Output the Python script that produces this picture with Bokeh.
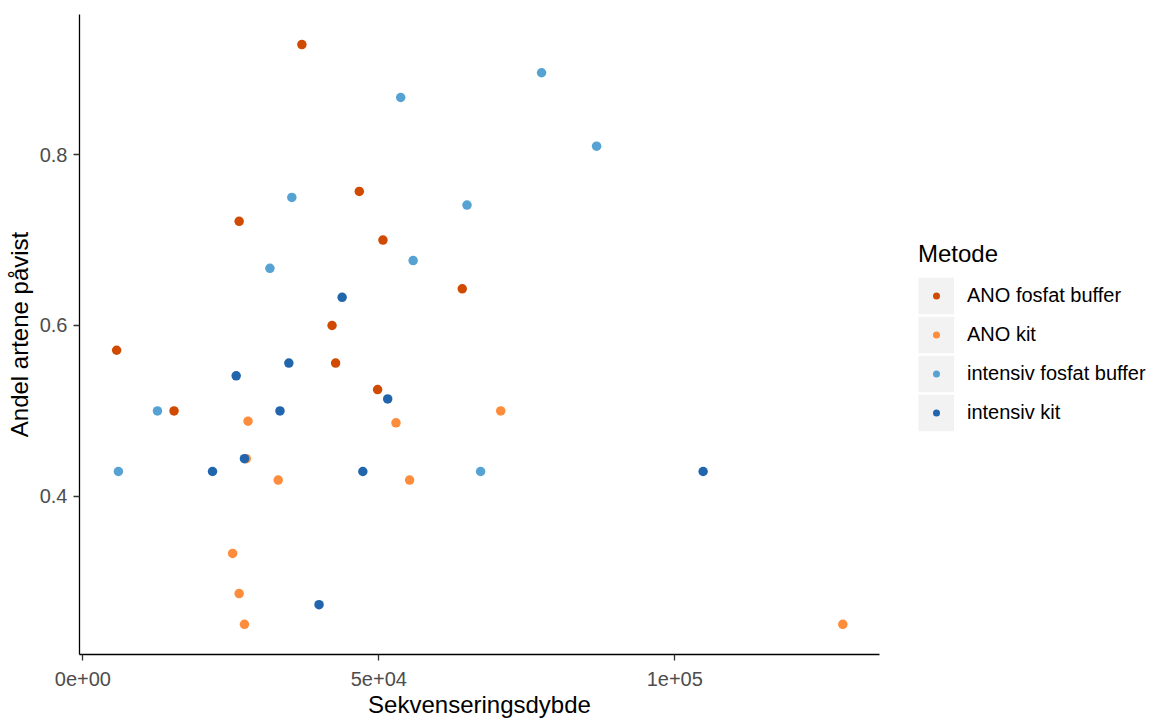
from bokeh.plotting import figure
from bokeh.models import Range1d, FixedTicker, Legend, LegendItem
from bokeh.embed import file_html
from bokeh.resources import INLINE

# ---- data ----
methods = ["ANO fosfat buffer", "ANO kit", "intensiv fosfat buffer", "intensiv kit"]
colors = ["#D04A02", "#FD8D3C", "#56A3D3", "#2166AC"]

ano_fosfat_x = [37000, 46700, 26400, 50700, 42100, 5700, 64100, 42700, 49800, 15400]
ano_fosfat_y = [0.929, 0.757, 0.722, 0.700, 0.600, 0.571, 0.643, 0.556, 0.525, 0.500]

ano_kit_x = [27900, 52900, 27600, 33000, 25300, 26400, 27300, 70600, 55200, 128400]
ano_kit_y = [0.488, 0.486, 0.444, 0.419, 0.333, 0.286, 0.250, 0.500, 0.419, 0.250]

int_fosfat_x = [53700, 35300, 31600, 77500, 86800, 64900, 55800, 12600, 6000, 67200]
int_fosfat_y = [0.867, 0.750, 0.667, 0.896, 0.810, 0.741, 0.676, 0.500, 0.429, 0.429]

int_kit_x = [43800, 34800, 25900, 51500, 33300, 27300, 21900, 47300, 39900, 104800]
int_kit_y = [0.633, 0.556, 0.541, 0.514, 0.500, 0.444, 0.429, 0.429, 0.273, 0.429]

x_ticks = [0, 50000, 100000]
x_tick_labels = ["0e+00", "5e+04", "1e+05"]
y_ticks = [0.4, 0.6, 0.8]
y_tick_labels = ["0.4", "0.6", "0.8"]

x_title = "Sekvenseringsdybde"
y_title = "Andel artene påvist"
legend_title = "Metode"

series_x = [ano_fosfat_x, ano_kit_x, int_fosfat_x, int_kit_x]
series_y = [ano_fosfat_y, ano_kit_y, int_fosfat_y, int_kit_y]

FONT = "Liberation Sans"
KEY_BG = "#F2F2F2"

p = figure(frame_width=800, frame_height=640,
           x_range=Range1d(-575, 134600), y_range=Range1d(0.2147, 0.9642),
           output_backend="svg", toolbar_location=None,
           min_border_left=79, min_border_right=274,
           min_border_top=14, min_border_bottom=64)
p.grid.visible = False
p.outline_line_color = None
p.background_fill_color = "white"

for xs, ys, c in zip(series_x, series_y, colors):
    p.scatter(xs, ys, size=9.5, fill_color=c, line_color=None)

# axes
p.xaxis.ticker = FixedTicker(ticks=x_ticks)
p.xaxis.major_label_overrides = {t: l for t, l in zip(x_ticks, x_tick_labels)}
p.yaxis.ticker = FixedTicker(ticks=y_ticks)
p.yaxis.major_label_overrides = {t: l for t, l in zip(y_ticks, y_tick_labels)}
p.xaxis.axis_label = x_title
p.yaxis.axis_label = y_title
for ax in (p.xaxis, p.yaxis):
    ax.axis_line_color = "black"
    ax.axis_line_width = 1.3
    ax.major_tick_line_color = "#333333"
    ax.major_tick_line_width = 1.3
    ax.major_tick_out = 6
    ax.major_tick_in = 0
    ax.minor_tick_line_color = None
    ax.major_label_text_font = FONT
    ax.major_label_text_font_size = "20px"
    ax.major_label_text_color = "#4D4D4D"
    ax.axis_label_text_font = FONT
    ax.axis_label_text_font_size = "24px"
    ax.axis_label_text_font_style = "normal"
    ax.axis_label_text_color = "black"
p.yaxis.major_label_standoff = 6
p.yaxis.axis_label_standoff = 4
p.xaxis.major_label_standoff = 11
p.xaxis.axis_label_standoff = 2

# legend: grey key square (thick line) + dot, hidden legend-only renderers
items = []
for xs, ys, m, c in zip(series_x, series_y, methods, colors):
    bg = p.line(xs, ys, line_color=KEY_BG, line_width=36.7, line_cap="butt",
                visible=False)
    dot = p.scatter(xs, ys, size=9, fill_color=c, line_color=KEY_BG,
                    line_width=7.4, visible=False)
    items.append(LegendItem(label=m, renderers=[bg, dot]))

legend = Legend(items=items, location=(39, 222.5),
                title=legend_title, title_text_font=FONT,
                title_text_font_size="24px", title_text_font_style="normal",
                title_text_color="black", title_standoff=8,
                glyph_width=36, glyph_height=39, label_height=39,
                label_standoff=13, spacing=0, padding=0, margin=0,
                border_line_color=None, background_fill_alpha=0,
                label_text_font=FONT, label_text_font_size="20px",
                label_text_color="black")
p.add_layout(legend, "right")

open("out.html", "w").write(file_html(p, INLINE))
